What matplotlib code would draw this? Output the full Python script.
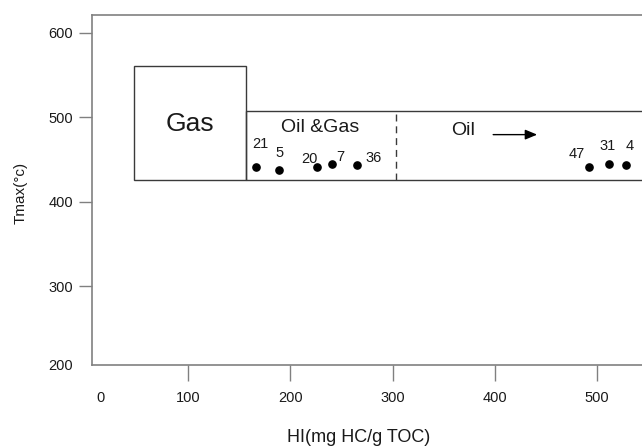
import matplotlib

matplotlib.use("Agg")
import matplotlib.pyplot as plt
from matplotlib.patches import Rectangle

plt.rcParams["font.family"] = ["Liberation Sans", "DejaVu Sans"]

# samples: HI (mg HC/g TOC) vs Tmax
sample_ids = ["21", "5", "20", "7", "36", "47", "31", "4"]
hi_values = [166, 189, 226, 241, 265, 492, 512, 529]
tmax_values = [441, 437, 441, 445, 443, 441.5, 444, 443.5]

# zone outlines as (hi_min, hi_max, tmax_min, tmax_max)
gas_zone = (47, 156, 426, 560)
oil_zone = (156, 600, 426, 507)
oil_gas_boundary = 303

x_ticks = [14, 100, 200, 300, 400, 500]
x_tick_labels = ["0", "100", "200", "300", "400", "500"]
y_ticks = [207, 300, 400, 500, 600]
y_tick_labels = ["200", "300", "400", "500", "600"]

# label offsets from each dot, in points
label_offsets = [(3.4, 16.6), (0, 12.7), (-5.3, 5.8), (5.5, 5), (12, 5.3),
                 (-8.4, 8.9), (-1.2, 13.4), (2.4, 13.7)]

LINE = "#3a3a3a"
AXIS = "#808080"
TEXT = "#1a1a1a"

fig = plt.figure(figsize=(6.42, 4.47), dpi=100)
ax = fig.add_axes([91.7 / 642, 1 - 365 / 447, 1 - 91.7 / 642, (365 - 15) / 447])
ax.set_xlim(5.3, 544.4)
ax.set_ylim(207, 620.7)

for x0, x1, y0, y1 in (gas_zone, oil_zone):
    ax.add_patch(Rectangle((x0, y0), x1 - x0, y1 - y0, fill=False,
                           edgecolor=LINE, linewidth=1.0))
ax.plot([oil_gas_boundary, oil_gas_boundary], [oil_zone[2], oil_zone[3]],
        color=LINE, linewidth=1.0, linestyle=(0, (5, 3.5)))

ax.text((gas_zone[0] + gas_zone[1]) / 2, 492, "Gas", fontsize=19,
        ha="center", va="center", color=TEXT)
ax.text((oil_zone[0] + oil_gas_boundary) / 2, 487.5, "Oil &Gas", fontsize=14,
        ha="center", va="center", color=TEXT)
ax.text(369, 484, "Oil", fontsize=14, ha="center", va="center", color=TEXT)
ax.annotate("", xy=(441.7, 479.3), xytext=(398.6, 479.3),
            arrowprops=dict(arrowstyle="-|>,head_length=0.6,head_width=0.25",
                            mutation_scale=12, color="black", lw=1.0,
                            shrinkA=0, shrinkB=0))

ax.plot(hi_values, tmax_values, "o", color="black", markersize=5.2, linestyle="none")
for sid, hi, tmax, offset in zip(sample_ids, hi_values, tmax_values, label_offsets):
    ax.annotate(sid, (hi, tmax), xytext=offset, textcoords="offset points",
                fontsize=10.5, ha="center", va="center", color=TEXT)

ax.spines["right"].set_visible(False)
for side in ("left", "bottom", "top"):
    ax.spines[side].set_color(AXIS)
    ax.spines[side].set_linewidth(1.2)

ax.set_xticks(x_ticks, x_tick_labels)
ax.set_yticks(y_ticks, y_tick_labels)
ax.tick_params(axis="x", length=11.5, width=1, color=AXIS, pad=7, labelsize=10.5,
               labelcolor=TEXT)
ax.tick_params(axis="y", length=9.5, width=1, color=AXIS, pad=4, labelsize=10.5,
               labelcolor=TEXT)
ax.xaxis.get_major_ticks()[0].tick1line.set_visible(False)
ax.yaxis.get_major_ticks()[0].tick1line.set_visible(False)

fig.text(359 / 642, 1 - 438 / 447, "HI(mg HC/g TOC)", fontsize=13,
         ha="center", va="center", color=TEXT)
fig.text(21 / 642, 1 - 193 / 447, "Tmax(°c)", fontsize=11, rotation=90,
         ha="center", va="center", color=TEXT)

fig.savefig("out.png", dpi=100)
